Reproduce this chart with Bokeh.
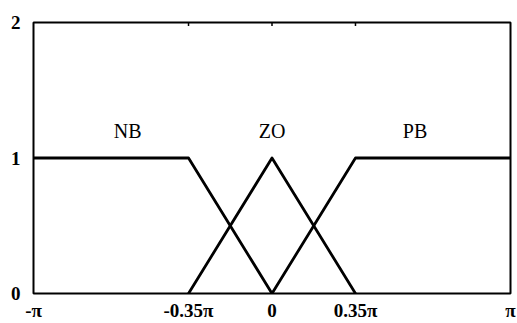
from bokeh.plotting import figure
from bokeh.models import FixedTicker, Range1d, ColumnDataSource
from bokeh.core.properties import value
from bokeh.embed import file_html
from bokeh.resources import INLINE

# x in units of pi
nb_x = [-1.0, -0.35, 0.0]
nb_y = [1.0, 1.0, 0.0]
zo_x = [-0.35, 0.0, 0.35]
zo_y = [0.0, 1.0, 0.0]
pb_x = [0.0, 0.35, 1.0]
pb_y = [0.0, 1.0, 1.0]

set_names = ["NB", "ZO", "PB"]
set_label_x = [-0.605, 0.0, 0.60]
set_label_y = [1.2, 1.2, 1.2]

x_ticks = [-1.0, -0.35, 0.0, 0.35, 1.0]
x_tick_labels = ["-π", "-0.35π", "0", "0.35π", "π"]
y_ticks = [0, 1, 2]
y_tick_labels = ["0", "1", "2"]
top_tick_x = [-0.35, 0.0, 0.35]

SERIF = "Liberation Serif"

p = figure(width=517, height=323, output_backend="svg", toolbar_location=None,
           x_range=Range1d(-1, 1), y_range=Range1d(0, 2),
           min_border_left=33, min_border_right=7, min_border_top=22, min_border_bottom=29)
p.background_fill_color = "white"
p.border_fill_color = "white"
p.outline_line_color = "black"
p.outline_line_width = 2
p.xgrid.visible = False
p.ygrid.visible = False

for xs, ys in [(nb_x, nb_y), (zo_x, zo_y), (pb_x, pb_y)]:
    p.line(xs, ys, line_color="black", line_width=2.8, line_join="round", line_cap="round")

# small inward ticks on the top edge
p.segment(x0=top_tick_x, x1=top_tick_x, y0=[2.0] * 3, y1=[1.975] * 3,
          line_color="black", line_width=1.5)

src = ColumnDataSource(dict(x=set_label_x, y=set_label_y, t=set_names))
p.text(x="x", y="y", text="t", source=src, text_font=value(SERIF),
       text_font_size="20px", text_align="center", text_baseline="alphabetic",
       text_color="black")

xa = p.xaxis[0]
xa.ticker = FixedTicker(ticks=x_ticks)
xa.major_label_overrides = {t: l for t, l in zip(x_ticks, x_tick_labels)}
xa.major_label_text_font = SERIF
xa.major_label_text_font_style = "bold"
xa.major_label_text_font_size = "19px"
xa.major_label_text_color = "black"
xa.major_label_standoff = 6
xa.major_tick_in = 0
xa.major_tick_out = 0
xa.minor_tick_in = 0
xa.minor_tick_out = 0
xa.axis_line_color = None

ya = p.yaxis[0]
ya.ticker = FixedTicker(ticks=y_ticks)
ya.major_label_overrides = {t: l for t, l in zip(y_ticks, y_tick_labels)}
ya.major_label_text_font = SERIF
ya.major_label_text_font_style = "bold"
ya.major_label_text_font_size = "19px"
ya.major_label_text_color = "black"
ya.major_label_standoff = 13
ya.major_tick_in = 0
ya.major_tick_out = 0
ya.minor_tick_in = 0
ya.minor_tick_out = 0
ya.axis_line_color = None

open("out.html", "w").write(file_html(p, INLINE))
